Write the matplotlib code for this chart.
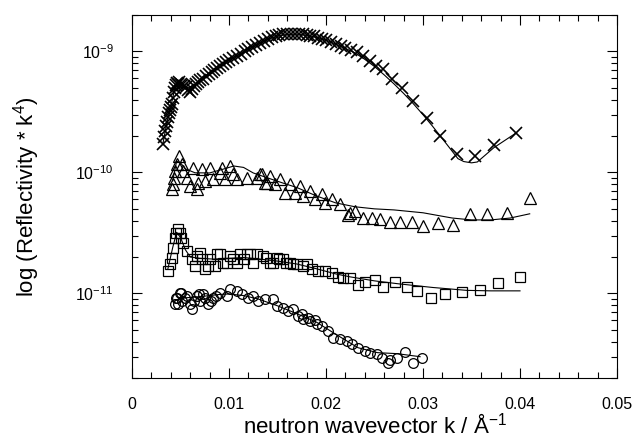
import numpy as np
import matplotlib
matplotlib.use('Agg')
import matplotlib.pyplot as plt
from matplotlib.ticker import MultipleLocator, LogLocator, FuncFormatter

plt.rcParams['font.family'] = ['Liberation Sans', 'DejaVu Sans']
plt.rcParams['mathtext.fontset'] = 'custom'
plt.rcParams['mathtext.rm'] = 'Liberation Sans'
plt.rcParams['mathtext.it'] = 'Liberation Sans:italic'

# crosses (top data set), R*k^4 in units of 1e-10
k_x = [0.0032, 0.0033, 0.0034, 0.0035, 0.0036, 0.0037, 0.0038, 0.0039, 0.0040,
       0.0041, 0.0042, 0.0043, 0.0044, 0.0045, 0.0046, 0.0047, 0.0048, 0.0050,
       0.0052, 0.0054, 0.0056, 0.0058, 0.0060, 0.0062, 0.0064, 0.0066, 0.0068,
       0.0070, 0.0073, 0.0076, 0.0079, 0.0082, 0.0085, 0.0088, 0.0091, 0.0094,
       0.0097, 0.0100, 0.0104, 0.0108, 0.0112, 0.0116, 0.0120, 0.0124, 0.0128,
       0.0132, 0.0136, 0.0140, 0.0144, 0.0148, 0.0152, 0.0156, 0.0160, 0.0164,
       0.0168, 0.0172, 0.0176, 0.0180, 0.0184, 0.0188, 0.0192, 0.0196, 0.0200,
       0.0205, 0.0210, 0.0215, 0.0220, 0.0226, 0.0232, 0.0238, 0.0245, 0.0252,
       0.0259, 0.0268, 0.0278, 0.0290, 0.0304, 0.0318, 0.0335, 0.0354, 0.0373,
       0.0396]
r_x = [1.72, 1.95, 2.2, 2.4, 2.6, 2.85, 3.1, 3.3, 3.5,
       3.7, 4.1, 4.6, 5.0, 5.3, 5.5, 5.4, 5.6, 5.4,
       5.3, 5.2, 5.1, 4.8, 4.6, 4.9, 5.2, 5.4, 5.6,
       5.8, 5.95, 6.3, 6.5, 6.8, 7.0, 7.3, 7.6, 7.9,
       8.2, 8.5, 8.85, 9.2, 9.6, 10.0, 10.4, 10.9, 11.3,
       11.8, 12.2, 12.7, 13.1, 13.4, 13.6, 13.8, 13.9, 14.0,
       14.0, 13.9, 13.8, 13.7, 13.5, 13.3, 13.0, 12.7, 12.4,
       12.0, 11.5, 11.1, 10.7, 10.3, 9.8, 9.2, 8.4, 7.6,
       7.1, 5.9, 5.0, 3.9, 2.82, 2.0, 1.43, 1.37, 1.69,
       2.12]
fit_k_x = [0.0032, 0.0036, 0.0040, 0.0044, 0.0047, 0.0052, 0.0058, 0.0064, 0.0070,
           0.0080, 0.0090, 0.0100, 0.0110, 0.0120, 0.0130, 0.0140, 0.0150, 0.0160,
           0.0170, 0.0180, 0.0190, 0.0200, 0.0210, 0.0220, 0.0230, 0.0240, 0.0250,
           0.0260, 0.0270, 0.0280, 0.0290, 0.0300, 0.0310, 0.0320, 0.0330, 0.0336,
           0.0342, 0.0350, 0.0356, 0.0373, 0.0396]
fit_r_x = [1.75, 2.6, 3.5, 4.9, 5.4, 5.3, 5.0, 5.3, 5.8,
           6.6, 7.5, 8.5, 9.4, 10.4, 11.5, 12.6, 13.4, 13.8,
           13.9, 13.6, 13.1, 12.4, 11.5, 10.6, 9.7, 8.6, 7.5,
           6.4, 5.4, 4.5, 3.7, 3.0, 2.4, 1.9, 1.5, 1.3,
           1.23, 1.2, 1.22, 1.6, 2.12]

# triangles, units of 1e-10
k_t = [0.0041, 0.0042, 0.0043, 0.0044, 0.0046, 0.0048, 0.0052, 0.0053, 0.0057,
       0.0060, 0.0063, 0.0067, 0.0068, 0.0072, 0.0075, 0.0080, 0.0084, 0.0091,
       0.0093, 0.0096, 0.0101, 0.0104, 0.0108, 0.0119, 0.0129, 0.0132, 0.0134,
       0.0137, 0.0139, 0.0142, 0.0147, 0.0153, 0.0158, 0.0163, 0.0168, 0.0173,
       0.0176, 0.0184, 0.0189, 0.0196, 0.0199, 0.0206, 0.0214, 0.0223, 0.0225,
       0.0230, 0.0238, 0.0247, 0.0256, 0.0266, 0.0276, 0.0289, 0.0300, 0.0315,
       0.0331, 0.0348, 0.0366, 0.0387, 0.0410]
r_t = [0.733, 0.805, 0.90, 1.03, 1.18, 1.37, 1.18, 1.03, 0.90,
       0.775, 1.09, 0.733, 0.82, 1.07, 0.853, 1.09, 0.886, 0.993,
       1.09, 0.886, 1.13, 0.973, 0.886, 0.90, 0.90, 0.973, 0.973,
       0.82, 0.82, 0.937, 0.805, 0.886, 0.679, 0.805, 0.679, 0.775,
       0.641, 0.705, 0.606, 0.666, 0.561, 0.606, 0.55, 0.446, 0.464,
       0.482, 0.422, 0.422, 0.414, 0.391, 0.391, 0.391, 0.362, 0.383,
       0.369, 0.45, 0.45, 0.464, 0.617]
fit_k_t = [0.0042, 0.0046, 0.0050, 0.0055, 0.0065, 0.0080, 0.0095, 0.0105, 0.0115,
           0.0125, 0.0140, 0.0155, 0.0170, 0.0190, 0.0210, 0.0230, 0.0250, 0.0270,
           0.0300, 0.0330, 0.0350, 0.0370, 0.0390, 0.0410]
fit_r_t = [0.853, 1.24, 1.2, 1.07, 0.993, 0.99, 1.07, 1.13, 1.1,
           0.99, 0.90, 0.82, 0.75, 0.64, 0.56, 0.52, 0.50, 0.49,
           0.464, 0.42, 0.405, 0.405, 0.42, 0.455]

# squares, units of 1e-11
k_s = [0.0037, 0.0039, 0.0041, 0.0042, 0.0044, 0.0045, 0.0047, 0.0049, 0.0050,
       0.0053, 0.0057, 0.0062, 0.0065, 0.0067, 0.0070, 0.0072, 0.0075, 0.0078,
       0.0080, 0.0086, 0.0088, 0.0091, 0.0094, 0.0098, 0.0101, 0.0104, 0.0108,
       0.0111, 0.0115, 0.0119, 0.0122, 0.0125, 0.0129, 0.0135, 0.0138, 0.0142,
       0.0145, 0.0149, 0.0152, 0.0156, 0.0159, 0.0163, 0.0166, 0.0170, 0.0176,
       0.0180, 0.0186, 0.0192, 0.0199, 0.0206, 0.0212, 0.0218, 0.0225, 0.0233,
       0.0240, 0.0251, 0.0259, 0.0271, 0.0284, 0.0294, 0.0308, 0.0323, 0.0340,
       0.0359, 0.0377, 0.0400]
r_s = [1.54, 1.76, 1.97, 2.38, 2.88, 3.17, 3.42, 3.17, 2.88,
       2.62, 2.25, 1.93, 1.69, 2.05, 2.17, 1.93, 1.60, 1.69,
       1.93, 1.69, 2.13, 2.13, 1.79, 1.79, 2.05, 1.93, 1.79,
       2.13, 1.93, 2.13, 2.13, 1.79, 2.13, 2.05, 1.97, 1.79,
       1.79, 1.97, 1.93, 1.93, 1.79, 1.79, 1.76, 1.76, 1.69,
       1.76, 1.60, 1.54, 1.54, 1.48, 1.37, 1.35, 1.35, 1.18,
       1.25, 1.30, 1.14, 1.25, 1.14, 1.05, 0.92, 0.995, 1.03,
       1.07, 1.23, 1.37]
fit_k_s = [0.0037, 0.0042, 0.0046, 0.0050, 0.0055, 0.0060, 0.0070, 0.0085, 0.0100,
           0.0115, 0.0130, 0.0150, 0.0170, 0.0190, 0.0210, 0.0225, 0.0250, 0.0275,
           0.0310, 0.0345, 0.0370, 0.0400]
fit_r_s = [1.6, 2.4, 3.2, 2.9, 2.3, 2.0, 1.95, 1.92, 1.95,
           1.98, 1.93, 1.85, 1.75, 1.60, 1.45, 1.37, 1.27, 1.2,
           1.12, 1.06, 1.05, 1.05]

# circles, units of 1e-12
k_c = [0.0044, 0.0045, 0.0046, 0.0047, 0.0049, 0.0050, 0.0052, 0.0055, 0.0057,
       0.0060, 0.0062, 0.0064, 0.0067, 0.0069, 0.0070, 0.0073, 0.0075, 0.0078,
       0.0081, 0.0084, 0.0087, 0.0091, 0.0098, 0.0101, 0.0108, 0.0113, 0.0120,
       0.0125, 0.0130, 0.0137, 0.0145, 0.0149, 0.0156, 0.0161, 0.0166, 0.0171,
       0.0175, 0.0176, 0.0181, 0.0184, 0.0189, 0.0191, 0.0196, 0.0202, 0.0207,
       0.0214, 0.0222, 0.0227, 0.0233, 0.0240, 0.0245, 0.0253, 0.0258, 0.0264,
       0.0266, 0.0273, 0.0281, 0.0290, 0.0299]
r_c = [8.22, 9.21, 9.21, 8.22, 10.14, 10.14, 8.71, 9.21, 9.57,
       8.22, 7.48, 8.71, 9.57, 9.94, 8.71, 9.94, 9.21, 8.22,
       8.71, 9.21, 9.57, 10.14, 9.57, 10.94, 10.52, 9.94, 9.21,
       9.57, 8.71, 9.04, 9.04, 7.91, 7.62, 7.19, 7.48, 6.54,
       6.79, 6.18, 6.30, 5.96, 6.07, 5.62, 5.41, 4.92, 4.31,
       4.22, 4.07, 3.84, 3.56, 3.36, 3.24, 3.18, 2.94, 2.68,
       2.84, 2.94, 3.30, 2.68, 2.94]
fit_k_c = [0.0044, 0.0055, 0.0070, 0.0090, 0.0100, 0.0115, 0.0130, 0.0150, 0.0170,
           0.0190, 0.0210, 0.0233, 0.0253, 0.0273, 0.0297]
fit_r_c = [8.8, 9.2, 9.4, 9.8, 9.9, 9.6, 9.0, 7.9, 6.8,
           5.8, 4.6, 3.56, 3.24, 3.18, 3.0]

fig = plt.figure(figsize=(6.38, 4.44), dpi=100)
ax = fig.add_axes([132/638, 1 - 378/444, 485/638, 363/444])

sets = [(k_x, r_x, fit_k_x, fit_r_x, 1e-10, 'x', 8, 1.2),
        (k_t, r_t, fit_k_t, fit_r_t, 1e-10, '^', 8.5, 0.9),
        (k_s, r_s, fit_k_s, fit_r_s, 1e-11, 's', 7, 0.9),
        (k_c, r_c, fit_k_c, fit_r_c, 1e-12, 'o', 7, 0.9)]
for k, r, fk, fr, unit, m, ms, mew in sets:
    ax.plot(fk, np.array(fr) * unit, '-', color='black', lw=0.8)
    ax.plot(k, np.array(r) * unit, m, ls='none', ms=ms, mew=mew,
            mec='black', mfc='none' if m != 'x' else 'black')

ax.set_yscale('log')
ax.set_xlim(0, 0.05)
ax.set_ylim(2e-12, 2e-9)
ax.xaxis.set_major_locator(MultipleLocator(0.01))
ax.xaxis.set_minor_locator(MultipleLocator(0.002))
ax.xaxis.set_major_formatter(FuncFormatter(lambda v, p: '0' if v == 0 else '%.2f' % v))
ax.yaxis.set_minor_locator(LogLocator(base=10, subs=np.arange(2, 10)))
ax.tick_params(which='both', direction='in', top=True, right=True,
               width=0.8, labelsize=11.5)
ax.tick_params(which='major', length=7)
ax.tick_params(which='minor', length=4)
ax.tick_params(axis='x', pad=14)
ax.tick_params(axis='y', pad=13)
for s in ax.spines.values():
    s.set_linewidth(0.8)

ax.set_xlabel('neutron wavevector k / Å$^{-1}$', fontsize=16, labelpad=1)
ax.set_ylabel('log (Reflectivity * k$^4$)', fontsize=16, labelpad=24)

fig.savefig('out.png', dpi=100)
